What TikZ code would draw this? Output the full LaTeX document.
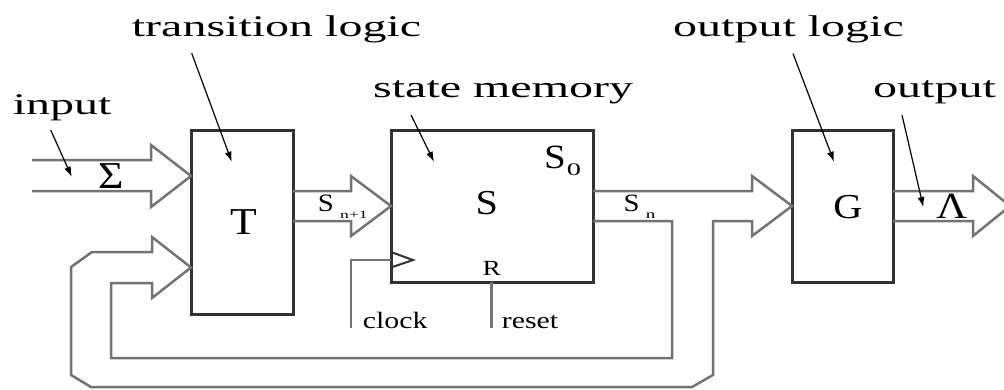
\documentclass[tikz,border=0pt]{standalone}
\usepackage{fontspec}
\setmainfont{Liberation Serif}
\newfontfamily\fTtl[FakeStretch=1.6]{Liberation Serif}
\newfontfamily\fBig[FakeStretch=1.15]{Liberation Serif}
\newfontfamily\fSm[FakeStretch=1.27]{Liberation Serif}
\newfontfamily\fSub[FakeStretch=1.6]{Liberation Serif}
\usetikzlibrary{calc,arrows.meta}
\definecolor{boxc}{RGB}{50,50,50}
\definecolor{busc}{RGB}{115,115,115}
\begin{document}
\begin{tikzpicture}[x=1pt,y=-1pt,
  blk/.style={draw=boxc, line width=3pt, inner sep=0pt, outer sep=0pt, fill=none},
  bus/.style={draw=busc, line width=2.5pt, line join=miter},
  lab/.style={draw=black, line width=1.2pt, -{Latex[length=10pt,width=7pt]}},
  ttl/.style={inner sep=0pt, anchor=base west, font={\fTtl\fontsize{30pt}{30pt}\selectfont}},
  bigl/.style={inner sep=0pt, anchor=base, font={\fBig\fontsize{#1pt}{#1pt}\selectfont}},
  smw/.style={inner sep=0pt, anchor=base west, font={\fSm\fontsize{#1pt}{#1pt}\selectfont}},
  subw/.style={inner sep=0pt, anchor=base west, font={\fSub\fontsize{#1pt}{#1pt}\selectfont}}]
\useasboundingbox (0,0) rectangle (1004,389);

% blocks
\node[blk, minimum width=102pt, minimum height=184pt] (T) at (242,222) {};
\node[blk, minimum width=202pt, minimum height=152pt] (S) at (492,206) {};
\node[blk, minimum width=101pt, minimum height=152pt] (G) at (842.5,206) {};

% reference coordinates
\coordinate (inA) at (0,176);
\coordinate (fbA) at (0,267.5);
\coordinate (ckA) at (0,260);
\coordinate (rsA) at (491.7,0);
\coordinate (outTip) at (1010,206);

% input bus
\draw[bus] (32,160) -- (151,160) -- (151,145) -- (T.west |- inA) -- (151,207) -- (151,191) -- (32,191);
% S_{n+1} bus
\draw[bus] (293,191) -- (351,191) -- (351,176) -- (S.west) -- (351,236) -- (351,221) -- (293,221);
% S_n bus to G and feedback
\draw[bus] (593,191) -- (752,191) -- (752,176) -- (G.west) -- (752,236) -- (752,221) -- (713,221)
  -- (713,375) -- (692,387) -- (91,387) -- (71,375) -- (71,267) -- (92,252) -- (152,252)
  -- (152,237) -- (T.west |- fbA) -- (152,298) -- (152,283) -- (111,283) -- (111,358)
  -- (672,358) -- (672,221) -- (593,221);
% output bus
\draw[bus] (893,191) -- (973,191) -- (973,176) -- (outTip) -- (973,236) -- (973,221) -- (893,221);

% clock and reset
\draw[bus] (351,328) -- (351,260) -- (S.west |- ckA);
\draw[draw=boxc, line width=2pt] (391,252) -- (413,260) -- (391,267.5);
\draw[bus] (S.south -| rsA) -- (491.7,328);

% labels
\node[ttl] (tl) at (131.7,36.7) {transition logic};
\node[ttl] (sm) at (373,97.5) {state memory};
\node[ttl] (ol) at (673,36.5) {output logic};
\node[ttl] (ou) at (873,97.5) {output};
\node[ttl] (in) at (12.7,114) {input};

\coordinate (tlE) at (231.7,161.7);
\coordinate (smE) at (434,161.7);
\coordinate (inE) at (71.7,176.7);
\coordinate (olE) at (834,161.7);
\coordinate (ouE) at (923.3,207);
\draw[lab] ($(tl.base west)+(60,16.5)$) -- (tlE);
\draw[lab] ($(sm.base west)+(38,17.5)$) -- (smE);
\draw[lab] ($(in.base west)+(38,16)$) -- (inE);
\draw[lab] ($(ol.base west)+(120,17)$) -- (olE);
\draw[lab] ($(ou.base west)+(29,17.5)$) -- (ouE);

% block letters
\node[bigl=38] (Tl) at (243.7,234) {T};
\node[bigl=35] (Sl) at (486.7,214.5) {S};
\node[bigl=35] (Gl) at (848,218.3) {G};
\node[bigl=38] (sig) at (111,188.3) {Σ};
\node[bigl=37] (lam) at (951.7,218.3) {Λ};

% S0
\node[smw=34, font={\fBig\fontsize{34pt}{34pt}\selectfont}] (s0S) at (544,168.3) {S};
\node[subw=17.7] (s0n) at (566.7,175) {0};
% S_{n+1}
\node[smw=25, font={\fBig\fontsize{25pt}{25pt}\selectfont}] (s1S) at (317.7,211.7) {S};
\node[subw=11] (s1n) at (340,218.3) {n+1};
% S_n
\node[smw=25, font={\fBig\fontsize{25pt}{25pt}\selectfont}] (snS) at (623.3,211.7) {S};
\node[subw=12] (snn) at (645.7,218) {n};

% R, clock, reset
\node[bigl=21.6, font={\fSm\fontsize{21.6pt}{22pt}\selectfont}] (Rl) at (491.7,275) {R};
\node[smw=23.5] (ck) at (362.7,328) {clock};
\node[smw=23.5] (rs) at (501.7,328) {reset};
\end{tikzpicture}
\end{document}
